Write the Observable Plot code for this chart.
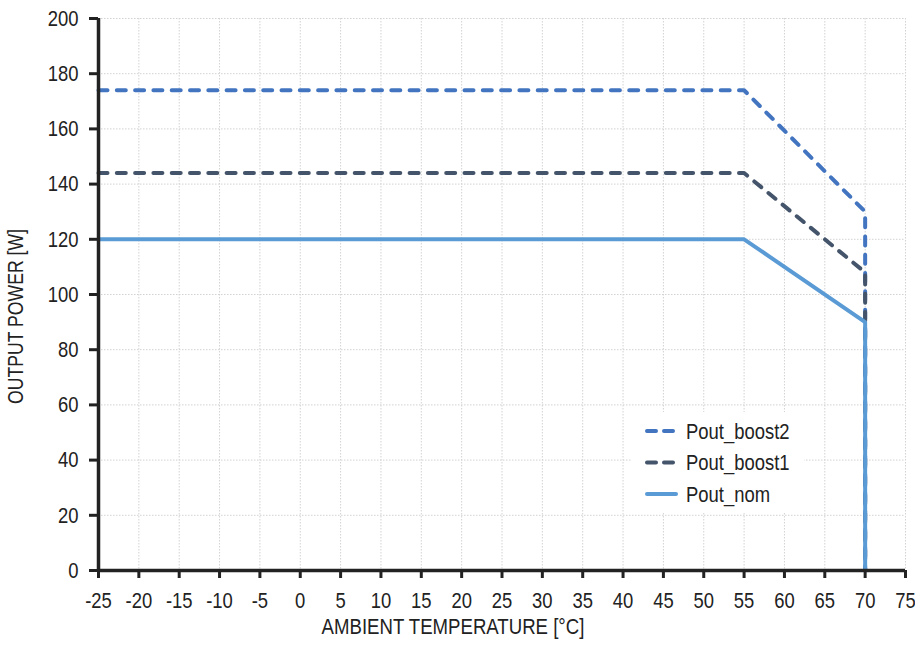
<!DOCTYPE html>
<html>
<head>
<meta charset="utf-8">
<script src="https://cdn.jsdelivr.net/npm/d3@7"></script>
<script src="https://cdn.jsdelivr.net/npm/@observablehq/plot@0.6"></script>
<style>
  html, body { margin: 0; padding: 0; background: #fff; }
  #wrap { position: relative; width: 915px; height: 647px; }
  #legend { position: absolute; left: 632px; top: 412px; width: 172px; height: 100px; background: #fff; }
</style>
</head>
<body>
<div id="wrap"></div>
<script>
const seriesNames = ["Pout_boost2", "Pout_boost1", "Pout_nom"];
const colors = ["#4274c0", "#44546a", "#5b9bd5"];
const dashes = ["9,9.3", "9,9.3", null];
const tempBoost2 = [-25, 55, 70, 70];
const powerBoost2 = [174, 174, 130, 0];
const tempBoost1 = [-25, 55, 70, 70];
const powerBoost1 = [144, 144, 108, 0];
const tempNom = [-25, 55, 70, 70];
const powerNom = [120, 120, 90, 0];
const xTicks = d3.range(-25, 76, 5);
const yTicks = d3.range(0, 201, 20);

// detect a narrow Arial-like face; otherwise condense Liberation Sans
const ctx = document.createElement("canvas").getContext("2d");
ctx.font = "40px 'Liberation Sans Narrow', monospace";
const wNarrow = ctx.measureText("AMBIENT TEMPERATURE").width;
ctx.font = "40px monospace";
const wMono = ctx.measureText("AMBIENT TEMPERATURE").width;
const hasNarrow = Math.abs(wNarrow - wMono) > 1;
const fam = hasNarrow ? "'Liberation Sans Narrow', 'Liberation Sans', Arial, sans-serif" : "'Liberation Sans', Arial, sans-serif";
const squeeze = hasNarrow ? 1 : 0.82;
const fs = {tick: 22.5, xt: 22.7, yt: 21.5, leg: 22.5};

const mk = (t, p) => t.map((x, i) => ({x, y: p[i]}));
const data = [mk(tempBoost2, powerBoost2), mk(tempBoost1, powerBoost1), mk(tempNom, powerNom)];

const chart = Plot.plot({
  width: 915, height: 647,
  marginLeft: 98, marginRight: 10, marginTop: 18, marginBottom: 77,
  style: {fontFamily: fam, color: "#222", background: "#fff"},
  x: {domain: [-25, 75]},
  y: {domain: [0, 200]},
  marks: [
    Plot.gridX(xTicks, {stroke: "#d2d2d2", strokeOpacity: 1, strokeDasharray: "1.5,1.5"}),
    Plot.gridY(yTicks, {stroke: "#d2d2d2", strokeOpacity: 1, strokeDasharray: "1.5,1.5"}),
    ...data.map((d, i) => Plot.line(d, {x: "x", y: "y", stroke: colors[i], strokeWidth: 4, strokeDasharray: dashes[i], strokeLinecap: dashes[i] ? "round" : "butt", strokeLinejoin: "round"})),
    Plot.axisX(xTicks, {tickSize: 8, strokeWidth: 3, stroke: "#222", label: null, tickFormat: () => ""}),
    Plot.axisY(yTicks, {tickSize: 9, strokeWidth: 3, stroke: "#222", label: null, tickFormat: () => ""}),
    Plot.text(xTicks, {x: d => d, frameAnchor: "bottom", lineAnchor: "middle", dy: 30, fontSize: fs.tick, fill: "#222", text: d => String(d)}),
    Plot.text(yTicks, {y: d => d, frameAnchor: "left", textAnchor: "end", lineAnchor: "middle", dx: -20, fontSize: fs.tick, fill: "#222", text: d => String(d)}),
    Plot.ruleX([-25], {stroke: "#222", strokeWidth: 3.5}),
    Plot.ruleY([0], {stroke: "#222", strokeWidth: 3.5}),
    Plot.text(["AMBIENT TEMPERATURE [°C]"], {frameAnchor: "bottom", dx: -49, dy: 63, fontSize: fs.xt, fill: "#222"}),
    Plot.text(["OUTPUT POWER [W]"], {frameAnchor: "left", textAnchor: "middle", dx: -82, dy: 22, rotate: -90, fontSize: fs.yt, fill: "#222"})
  ]
});
function condense(root) {
  if (squeeze === 1) return;
  d3.select(root).selectAll("text").each(function () {
    const t = d3.select(this);
    const tr = t.attr("transform");
    if (tr) {
      t.attr("transform", tr + ` scale(${squeeze},1)`);
    } else {
      const x = +t.attr("x") || 0, y = +t.attr("y") || 0;
      t.attr("transform", `translate(${x},${y}) scale(${squeeze},1) translate(${-x},${-y})`);
    }
  });
}
condense(chart);
const wrap = document.getElementById("wrap");
wrap.appendChild(chart);

// legend drawn inside the plot area on a white box
const leg = document.createElement("div");
leg.id = "legend";
const lsvg = d3.select(leg).append("svg").attr("width", 172).attr("height", 100)
  .style("font-family", fam).style("display", "block");
const rowY = i => 19 + i * 31.5;
seriesNames.forEach((n, i) => {
  lsvg.append("line").attr("x1", 15).attr("x2", 44).attr("y1", rowY(i)).attr("y2", rowY(i))
    .attr("stroke", colors[i]).attr("stroke-width", 4).attr("stroke-linecap", "round")
    .attr("stroke-dasharray", dashes[i] ? "9,8" : null);
  lsvg.append("text").attr("x", 54).attr("y", rowY(i)).attr("dy", "0.35em")
    .attr("font-size", fs.leg).attr("fill", "#222").text(n);
});
condense(lsvg.node());
wrap.appendChild(leg);
</script>
</body>
</html>
